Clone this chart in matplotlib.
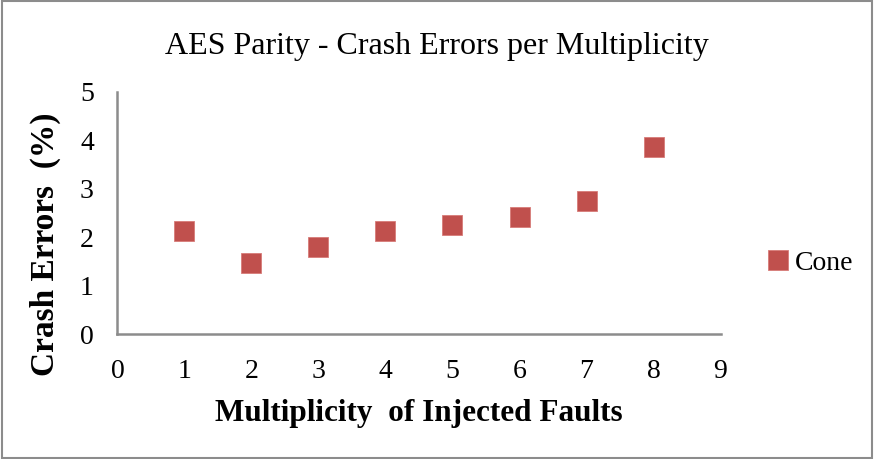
import numpy as np
import matplotlib.pyplot as plt
from matplotlib.patches import Rectangle

# crash error rate for each fault multiplicity
multiplicity = [1, 2, 3, 4, 5, 6, 7, 8]
crash_errors = [2.13, 1.47, 1.80, 2.13, 2.25, 2.42, 2.75, 3.86]
series_name = "Cone"

plt.rcParams["font.family"] = ["Liberation Serif", "DejaVu Serif"]

fig = plt.figure(figsize=(8.74, 4.59), dpi=100)
ax = fig.add_axes([0.1344, 0.2723, 0.6900, 0.5273])

ax.plot(multiplicity, crash_errors, linestyle="None", marker="s", markersize=14,
        markerfacecolor="#C0504D", markeredgecolor="#D77B78", markeredgewidth=0.6,
        label=series_name)

ax.set_xlim(0, 9)
ax.set_ylim(0, 5)
ax.set_xticks(range(0, 10))
ax.set_yticks(range(0, 6))
ax.tick_params(length=0, labelsize=20)
ax.tick_params(axis="x", pad=18)
ax.tick_params(axis="y", pad=17)

for side in ["top", "right"]:
    ax.spines[side].set_visible(False)
for side in ["left", "bottom"]:
    ax.spines[side].set_color("#8C8C8C")
    ax.spines[side].set_linewidth(1.8)

ax.set_xlabel("Multiplicity  of Injected Faults", fontsize=22.5, fontweight="bold", va="center")
ax.xaxis.set_label_coords(0.5, -0.33)
ax.set_ylabel("Crash Errors  (%)", fontsize=24, fontweight="bold", va="center")
ax.yaxis.set_label_coords(-0.119, 0.37)
fig.text(0.5, 0.898, "AES Parity - Crash Errors per Multiplicity", ha="center", va="center",
         fontsize=23)

fig.legend(loc="center left", bbox_to_anchor=(0.874, 0.427), frameon=False, fontsize=20,
           handletextpad=0.1, borderaxespad=0, borderpad=0, handlelength=1.0)

# outer chart border
fig.patches.append(Rectangle((0.002, 0.003), 0.996, 0.994, transform=fig.transFigure,
                             fill=False, edgecolor="#8C8C8C", linewidth=1.5))

fig.savefig("out.png", dpi=100)
